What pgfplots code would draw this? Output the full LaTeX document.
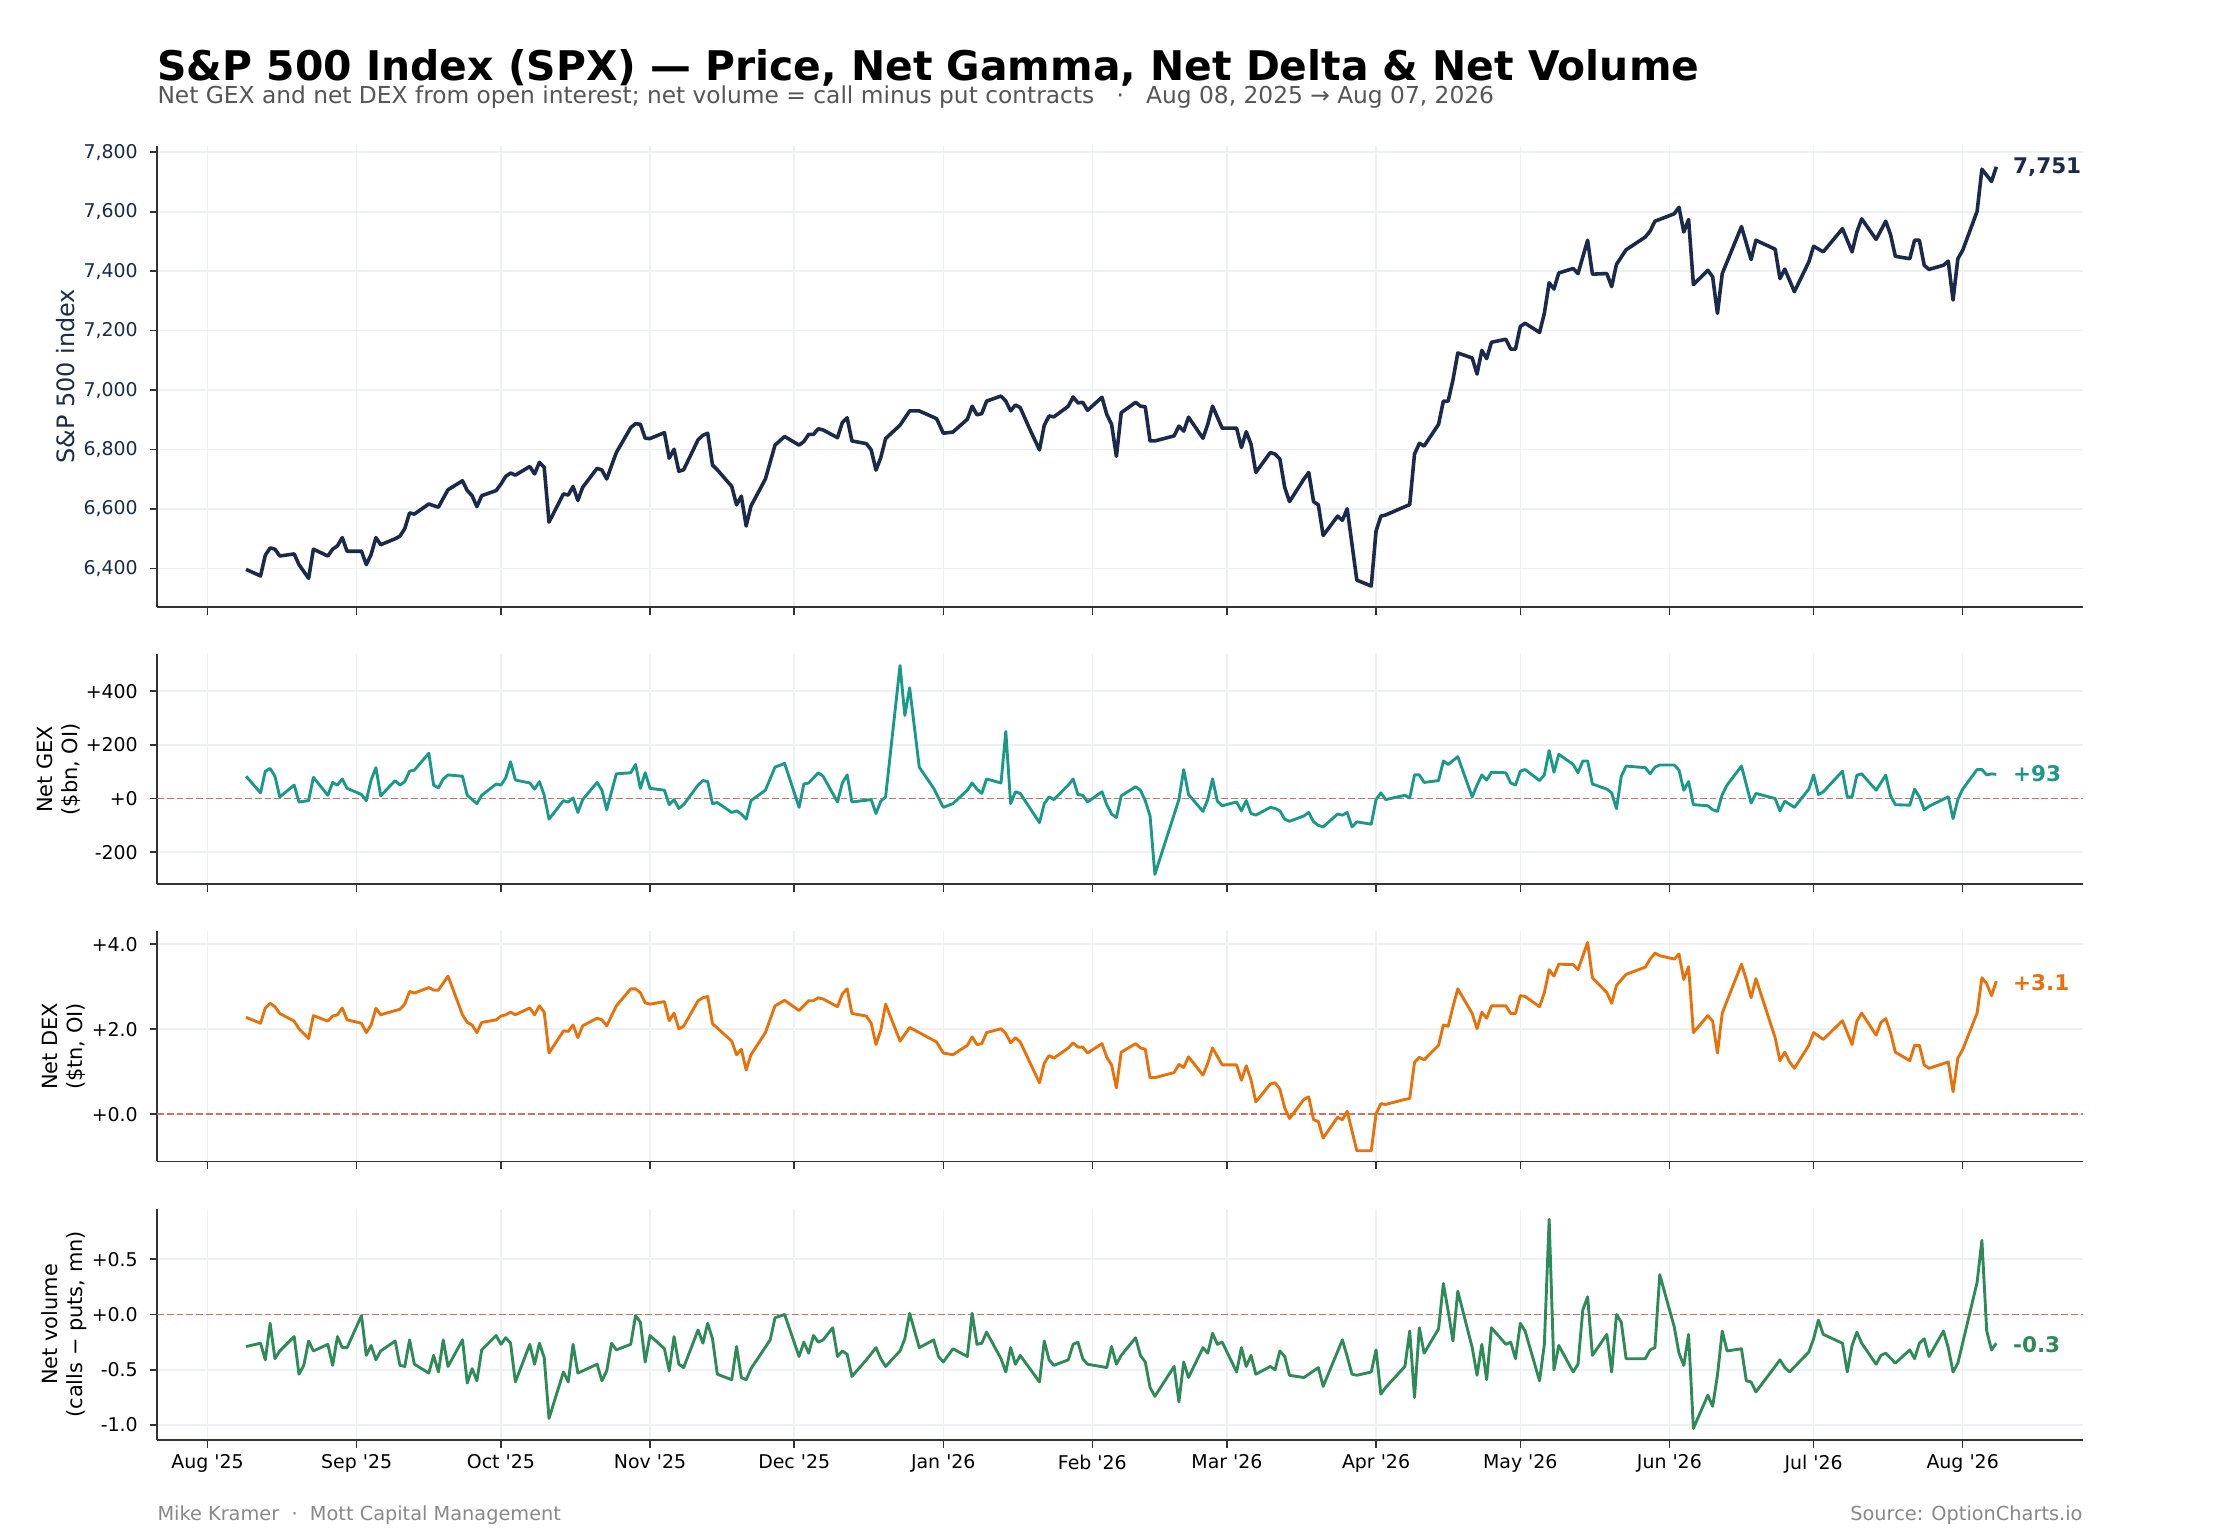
\documentclass[border=0pt]{standalone}
\usepackage{fontspec}
\setmainfont{DejaVu Sans}[Ligatures=TeXOff]
\usepackage{pgfplots}
\pgfplotsset{compat=1.18}
\definecolor{cPrice}{HTML}{1B2A4A}
\definecolor{cGex}{HTML}{1A9988}
\definecolor{cDex}{HTML}{E8710A}
\definecolor{cVol}{HTML}{2E8B57}
\definecolor{cZero}{HTML}{D4705F}
\definecolor{cGrid}{HTML}{EDF0F4}
\definecolor{cSpine}{HTML}{333333}
\definecolor{cSub}{HTML}{555555}
\definecolor{cFoot}{HTML}{888888}

\pgfplotstableread{
d v
8 6397
11 6375
12 6445
13 6469
14 6465
15 6442
18 6449
19 6413
21 6367
22 6465
25 6442
26 6465
27 6476
28 6504
29 6458
32 6458
33 6413
34 6447
35 6504
36 6480
39 6500
40 6509
41 6534
42 6587
43 6583
46 6617
48 6606
49 6636
50 6665
53 6695
54 6662
55 6645
56 6608
57 6645
60 6662
61 6684
62 6710
63 6721
64 6714
67 6743
68 6718
69 6757
70 6740
71 6556
74 6651
75 6647
76 6676
77 6629
78 6673
81 6737
82 6731
83 6701
84 6746
85 6790
88 6874
89 6887
90 6885
91 6838
92 6837
95 6857
96 6771
97 6801
98 6727
99 6732
102 6833
103 6848
104 6855
105 6748
106 6732
109 6676
110 6614
111 6643
112 6543
113 6610
116 6701
118 6815
120 6844
123 6815
124 6827
125 6851
126 6851
127 6870
128 6866
131 6840
132 6891
133 6907
134 6829
137 6820
138 6799
139 6731
140 6773
141 6837
144 6882
146 6930
148 6930
151.6 6904
153 6855
155 6859
158 6902
159 6946
160 6917
161 6921
162 6963
165 6980
166 6963
167 6930
168 6950
169 6941
171 6868
173 6799
174 6882
175 6913
176 6910
179 6946
180 6977
181 6957
182 6959
183 6932
186 6976
187 6918
188 6885
189 6777
190 6924
193 6959
194 6946
195 6944
196 6829
197 6829
201 6846
202 6879
203 6862
204 6909
207 6838
208 6885
209 6946
211 6872
214 6872
215 6807
216 6860
217 6818
218 6723
221 6790
222 6785
223 6768
224 6673
225 6625
228 6701
229 6723
230 6625
231 6614
232 6511
235 6576
236 6562
237 6601
239 6361
242 6341
243 6526
244 6576
245 6580
250 6615
251 6785
252 6821
253 6812
256 6885
257 6963
258 6963
259 7035
260 7125
263 7108
264 7054
265 7134
266 7106
267 7161
270 7171
271 7138
272 7138
273 7214
274 7225
277 7194
278 7258
279 7361
280 7340
281 7394
284 7409
285 7392
287 7504
288 7390
291 7392
292 7348
293 7423
295 7472
299 7515
300 7535
301 7568
305 7593
306 7615
307 7532
308 7574
309 7355
312 7403
313 7381
314 7258
315 7392
319 7550
321 7439
322 7504
326 7474
327 7375
328 7407
330 7331
333 7431
334 7484
336 7465
340 7543
342 7465
343 7532
344 7576
347 7507
349 7568
350 7523
351 7450
354 7442
355 7504
356 7504
357 7420
358 7406
361 7420
362 7434
363 7303
364 7442
365 7470
368 7601
369 7743
371 7702
372 7751
}\priceTable

\pgfplotstableread{
d v
8 83
11 21
12 102
13 112
14 83
15 6
18 50
19 -13
21 -8
22 79
25 12
26 60
27 50
28 73
29 38
32 15
33 -8
34 69
35 115
36 10
39 67
40 50
41 63
42 102
43 106
46 169
47 50
48 40
49 73
50 88
53 83
54 12
56 -19
57 12
60 54
61 50
62 77
63 137
64 69
67 58
68 35
69 63
70 12
71 -77
74 -8
75 -13
76 2
77 -52
78 -4
81 60
82 31
83 -42
84 25
85 92
88 96
89 127
90 38
91 96
92 38
95 31
96 -23
97 -4
98 -37
99 -23
102 50
103 67
104 63
105 -19
106 -15
109 -52
110 -46
111 -58
112 -77
113 -8
116 31
118 117
120 131
123 -33
124 54
125 58
127 96
128 83
131 -13
132 58
133 88
134 -13
138 -4
139 -56
140 -10
141 6
144 496
145 310
146 413
148 117
151 38
153 -33
155 -19
158 31
159 58
160 35
161 19
162 73
165 58
166 250
167 -19
168 25
169 19
173 -90
174 -19
175 6
176 -4
179 50
180 73
181 15
182 12
183 -13
186 25
187 -23
188 -58
189 -71
190 10
193 44
194 31
195 -8
196 -65
197 -283
202 -4
203 108
204 15
207 -48
208 -4
209 73
210 -10
211 -27
214 -13
215 -46
216 -8
217 -56
218 -62
221 -33
222 -37
223 -46
224 -77
225 -85
228 -65
229 -52
230 -87
231 -100
232 -106
235 -58
236 -62
237 -52
238 -106
239 -87
242 -96
243 -4
244 21
245 -4
249 12
250 2
251 88
252 88
253 60
256 67
257 140
258 127
260 156
263 6
264 50
265 88
266 69
267 98
270 96
271 58
272 50
273 102
274 108
277 67
278 88
279 179
280 98
281 165
284 127
285 96
286 140
287 140
288 54
291 35
292 21
293 -38
294 83
295 121
299 115
300 92
301 117
302 125
305 125
306 106
307 31
308 63
309 -23
312 -27
313 -42
314 -48
315 15
316 50
319 121
321 -17
322 19
326 0
327 -46
328 -10
330 -33
333 35
334 88
335 15
336 25
340 102
341 6
342 6
343 87
344 92
347 31
349 87
350 10
351 -23
354 -25
355 35
356 6
357 -42
358 -29
362 6
363 -75
364 -4
365 35
368 108
369 108
370 88
371 92
372 90
}\gexTable

\pgfplotstableread{
d v
8 2.28
11 2.14
12 2.50
13 2.61
14 2.53
15 2.37
18 2.19
19 2.01
21 1.78
22 2.32
25 2.19
26 2.31
27 2.34
28 2.50
29 2.22
32 2.14
33 1.92
34 2.10
35 2.49
36 2.34
40 2.47
41 2.59
42 2.89
43 2.85
46 2.98
47 2.92
48 2.92
50 3.25
53 2.34
54 2.16
55 2.10
56 1.92
57 2.16
60 2.22
61 2.31
62 2.34
63 2.40
64 2.34
67 2.50
68 2.34
69 2.55
70 2.40
71 1.44
74 1.96
75 1.95
76 2.10
77 1.80
78 2.08
81 2.26
82 2.22
83 2.08
85 2.55
88 2.95
89 2.95
90 2.86
91 2.62
92 2.59
95 2.65
96 2.20
97 2.38
98 2.01
99 2.07
102 2.67
103 2.74
104 2.77
105 2.13
109 1.72
110 1.40
111 1.53
112 1.04
113 1.40
116 1.92
118 2.55
120 2.68
123 2.44
125 2.67
126 2.67
127 2.74
128 2.71
131 2.53
132 2.83
133 2.95
134 2.37
137 2.31
138 2.14
139 1.64
140 1.98
141 2.59
144 1.72
146 2.04
148 1.92
151.6 1.70
153 1.44
155 1.40
158 1.62
159 1.82
160 1.64
161 1.66
162 1.92
165 2.01
166 1.90
167 1.68
168 1.80
169 1.70
173 0.74
174 1.20
175 1.38
176 1.32
179 1.56
180 1.68
181 1.58
182 1.58
183 1.44
186 1.66
187 1.34
188 1.16
189 0.62
190 1.46
193 1.66
194 1.56
195 1.53
196 0.86
197 0.86
201 0.98
202 1.17
203 1.10
204 1.35
207 0.92
208 1.20
209 1.56
211 1.16
214 1.16
215 0.80
216 1.14
217 0.81
218 0.29
221 0.71
222 0.74
223 0.59
224 0.15
225 -0.10
228 0.35
229 0.41
230 -0.13
231 -0.17
232 -0.56
235 -0.07
236 -0.13
237 0.07
239 -0.86
242 -0.86
243 0.01
244 0.25
245 0.23
249 0.35
250 0.37
251 1.22
252 1.34
253 1.28
256 1.62
257 2.10
258 2.07
259 2.53
260 2.95
263 2.37
264 2.01
265 2.40
266 2.26
267 2.55
270 2.55
271 2.37
272 2.37
273 2.79
274 2.77
277 2.53
278 2.86
279 3.40
280 3.25
281 3.53
284 3.52
285 3.40
287 4.04
288 3.21
291 2.86
292 2.61
293 3.03
295 3.29
299 3.46
300 3.65
301 3.79
302 3.73
305 3.65
306 3.77
307 3.17
308 3.47
309 1.92
312 2.32
313 2.19
314 1.44
315 2.38
316 2.67
319 3.53
320 3.17
321 2.74
322 3.19
326 1.80
327 1.26
328 1.46
329 1.23
330 1.08
333 1.62
334 1.92
336 1.76
340 2.20
342 1.64
343 2.19
344 2.38
347 1.86
348 2.16
349 2.25
350 1.92
351 1.46
354 1.26
355 1.62
356 1.62
357 1.16
358 1.08
362 1.23
363 0.53
364 1.32
365 1.52
368 2.38
369 3.21
370 3.07
371 2.79
372 3.13
}\dexTable

\pgfplotstableread{
d v
8 -0.29
11 -0.26
12 -0.41
13 -0.08
14 -0.40
15 -0.33
18 -0.20
19 -0.54
20 -0.46
21 -0.24
22 -0.33
25 -0.27
26 -0.46
27 -0.20
28 -0.30
29 -0.30
32 -0.01
33 -0.37
34 -0.28
35 -0.41
36 -0.33
39 -0.24
40 -0.46
41 -0.47
42 -0.23
43 -0.45
46 -0.53
47 -0.37
48 -0.52
49 -0.23
50 -0.47
53 -0.23
54 -0.62
55 -0.49
56 -0.60
57 -0.32
60 -0.19
61 -0.27
62 -0.21
63 -0.26
64 -0.61
67 -0.27
68 -0.45
69 -0.26
70 -0.39
71 -0.94
74 -0.52
75 -0.61
76 -0.27
77 -0.53
81 -0.45
82 -0.60
83 -0.51
84 -0.26
85 -0.32
88 -0.27
89 -0.01
90 -0.07
91 -0.43
92 -0.19
95 -0.31
96 -0.51
97 -0.20
98 -0.45
99 -0.48
102 -0.14
103 -0.26
104 -0.08
105 -0.22
106 -0.54
109 -0.59
110 -0.29
111 -0.57
112 -0.59
113 -0.49
117 -0.23
118 -0.03
120 0.00
123 -0.38
124 -0.25
125 -0.35
126 -0.19
127 -0.25
128 -0.23
130 -0.12
131 -0.38
132 -0.33
133 -0.36
134 -0.56
137 -0.41
139 -0.30
140 -0.40
141 -0.47
144 -0.33
145 -0.22
146 0.01
148 -0.30
151 -0.23
152 -0.38
153 -0.43
155 -0.31
158 -0.38
159 0.01
160 -0.27
161 -0.26
162 -0.16
165 -0.40
166 -0.52
167 -0.30
168 -0.45
169 -0.37
173 -0.61
174 -0.24
175 -0.41
176 -0.46
179 -0.41
180 -0.27
181 -0.25
182 -0.40
183 -0.45
187 -0.48
188 -0.29
189 -0.45
190 -0.37
193 -0.21
194 -0.37
195 -0.43
196 -0.66
197 -0.74
201 -0.47
202 -0.79
203 -0.43
204 -0.57
207 -0.30
208 -0.35
209 -0.17
210 -0.27
211 -0.25
214 -0.52
215 -0.30
216 -0.47
217 -0.37
218 -0.54
221 -0.47
222 -0.50
223 -0.33
224 -0.38
225 -0.55
228 -0.57
231 -0.48
232 -0.65
236 -0.23
237 -0.38
238 -0.54
239 -0.55
242 -0.52
243 -0.32
244 -0.72
245 -0.66
249 -0.47
250 -0.15
251 -0.75
252 -0.12
253 -0.35
256 -0.13
257 0.28
258 0.03
259 -0.24
260 0.21
263 -0.30
264 -0.55
265 -0.27
266 -0.59
267 -0.12
270 -0.27
271 -0.25
272 -0.40
273 -0.08
274 -0.15
277 -0.60
278 -0.27
279 0.86
280 -0.50
281 -0.28
284 -0.52
285 -0.45
286 0.04
287 0.16
288 -0.37
291 -0.18
292 -0.52
293 0.00
294 -0.07
295 -0.40
299 -0.40
300 -0.32
301 -0.30
302 0.36
305 -0.11
306 -0.35
307 -0.46
308 -0.18
309 -1.03
312 -0.73
313 -0.83
314 -0.55
315 -0.15
316 -0.33
319 -0.31
320 -0.60
321 -0.61
322 -0.70
326 -0.47
327 -0.41
328 -0.48
329 -0.52
333 -0.34
334 -0.22
335 -0.05
336 -0.18
340 -0.26
341 -0.52
342 -0.28
343 -0.16
344 -0.26
347 -0.45
348 -0.37
349 -0.35
351 -0.44
354 -0.32
355 -0.40
356 -0.26
357 -0.22
358 -0.38
361 -0.15
362 -0.30
363 -0.52
364 -0.44
368 0.29
369 0.67
370 -0.15
371 -0.32
372 -0.26
}\volTable

\pgfplotsset{
  panel/.style={
    scale only axis,
    width=962.86bp,
    xmin=-10.5, xmax=390,
    axis lines=left,
    axis line style={-, color=cSpine, line width=0.9pt},
    tick align=outside,
    major tick length=3.8pt,
    tick style={color=cSpine, line width=0.8pt},
    xtick={0,31,61,92,122,153,184,212,243,273,304,334,365},
    xticklabels={},
    grid=major,
    grid style={color=cGrid, line width=0.8pt},
    tick label style={font=\fontsize{9.5}{11}\selectfont},
    yticklabel style={xshift=-2.4pt},
    clip=false,
  },
  zeroline/.style={color=cZero, line width=0.9pt, dash pattern=on 3.4pt off 1.5pt},
}
\tikzset{
  endlab/.style={anchor=west, inner sep=0pt, xshift=8.2bp, font=\fontsize{10.8}{13}\selectfont\bfseries},
  ylab/.style={rotate=90, align=center, anchor=center, font=\fontsize{10.5}{12.6}\selectfont},
}

\begin{document}
\begin{tikzpicture}
\useasboundingbox (0,0) rectangle (1120bp,-770bp);

\node[anchor=base west, inner sep=0pt, font=\fontsize{20.5}{24}\selectfont\bfseries] at (78.57bp,-40bp)
  {S\&P 500 Index (SPX) — Price, Net Gamma, Net Delta \& Net Volume};
\node[anchor=base west, inner sep=0pt, text=cSub, font=\fontsize{11.7}{14}\selectfont] at (78.57bp,-51.8bp)
  {Net GEX and net DEX from open interest; net volume = call minus put contracts \ \ · \ \ Aug 08, 2025 → Aug 07, 2026};

% Panel 1: price
\begin{axis}[panel, at={(78.57bp,-72.86bp)}, anchor=north west, height=230.71bp,
  ymin=6270, ymax=7822,
  ytick={6400,6600,6800,7000,7200,7400,7600,7800},
  yticklabels={{6,400},{6,600},{6,800},{7,000},{7,200},{7,400},{7,600},{7,800}},
  yticklabel style={text=cPrice}]
\addplot[color=cPrice, line width=1.8pt, line join=round] table[x=d,y=v] {\priceTable};
\node[endlab, text=cPrice] at (axis cs:372,7751) {7,751};
\node[ylab, text=cPrice, font=\fontsize{12}{14}\selectfont] at (axis description cs:-0.0475,0.5) {S\&P 500 index};
\end{axis}

% Panel 2: GEX
\begin{axis}[panel, at={(78.57bp,-327.14bp)}, anchor=north west, height=115bp,
  ymin=-320, ymax=538,
  ytick={-200,0,200,400},
  yticklabels={-200,+0,+200,+400}]
\addplot[zeroline] coordinates {(-10.5,0) (390,0)};
\addplot[color=cGex, line width=1.45pt, line join=round] table[x=d,y=v] {\gexTable};
\node[endlab, text=cGex] at (axis cs:372,93) {+93};
\node[ylab] at (axis description cs:-0.0512,0.5) {Net GEX\\(\$bn, OI)};
\end{axis}

% Panel 3: DEX
\begin{axis}[panel, at={(78.57bp,-465.71bp)}, anchor=north west, height=115bp,
  ymin=-1.11, ymax=4.3,
  ytick={0,2,4},
  yticklabels={+0.0,+2.0,+4.0}]
\addplot[zeroline] coordinates {(-10.5,0) (390,0)};
\addplot[color=cDex, line width=1.45pt, line join=round] table[x=d,y=v] {\dexTable};
\node[endlab, text=cDex] at (axis cs:372,3.1) {+3.1};
\node[ylab] at (axis description cs:-0.0482,0.5) {Net DEX\\(\$tn, OI)};
\end{axis}

% Panel 4: volume
\begin{axis}[panel, at={(78.57bp,-604.29bp)}, anchor=north west, height=115.71bp,
  ymin=-1.135, ymax=0.957,
  ytick={-1,-0.5,0,0.5},
  yticklabels={-1.0,-0.5,+0.0,+0.5},
  xticklabels={Aug '25,Sep '25,Oct '25,Nov '25,Dec '25,Jan '26,Feb '26,Mar '26,Apr '26,May '26,Jun '26,Jul '26,Aug '26}]
\addplot[zeroline] coordinates {(-10.5,0) (390,0)};
\addplot[color=cVol, line width=1.45pt, line join=round] table[x=d,y=v] {\volTable};
\node[endlab, text=cVol] at (axis cs:372,-0.27) {-0.3};
\node[ylab] at (axis description cs:-0.0482,0.5) {Net volume\\(calls − puts, mn)};
\end{axis}

\node[anchor=base west, inner sep=0pt, text=cFoot, font=\fontsize{9.7}{12}\selectfont] at (78.57bp,-760.4bp)
  {Mike Kramer \ · \ Mott Capital Management};
\node[anchor=base east, inner sep=0pt, text=cFoot, font=\fontsize{9.7}{12}\selectfont] at (1041.43bp,-760.4bp)
  {Source: OptionCharts.io};
\end{tikzpicture}
\end{document}
